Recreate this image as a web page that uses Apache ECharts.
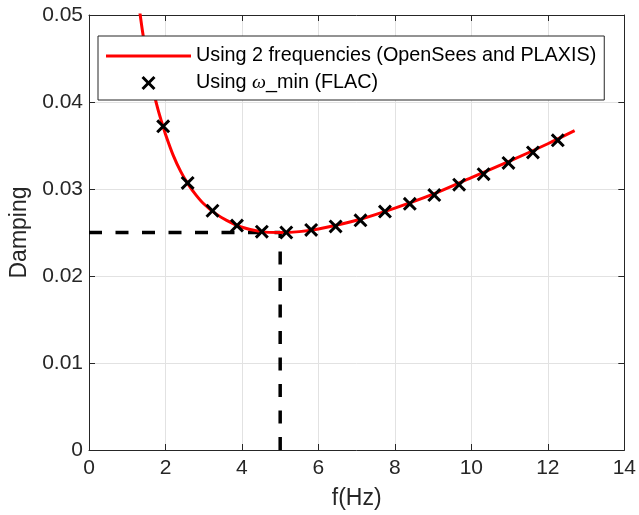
<!DOCTYPE html>
<html>
<head>
<meta charset="utf-8">
<script src="https://cdn.jsdelivr.net/npm/echarts@6/dist/echarts.min.js"></script>
<style>
html,body{margin:0;padding:0;background:#fff;}
#chart{width:639px;height:515px;}
</style>
</head>
<body>
<div id="chart"></div>
<script>
// Rayleigh damping curve (2 frequencies)
const curveFreq = [1.3, 1.4, 1.5, 1.6, 1.7, 1.8, 1.9, 2.0, 2.2, 2.4, 2.6, 2.8, 3.0, 3.3, 3.6, 4.0, 4.5, 5.0, 5.5, 6.0, 7.0, 8.0, 9.0, 10.0, 11.0, 12.0, 12.7];
const curveDamping = [0.0513, 0.0481, 0.0454, 0.0431, 0.0410, 0.0392, 0.0377, 0.0363, 0.0339, 0.0320, 0.0305, 0.0293, 0.0283, 0.0272, 0.0264, 0.0256, 0.0251, 0.0250, 0.0251, 0.0254, 0.0264, 0.0278, 0.0294, 0.0313, 0.0332, 0.0352, 0.0367];
// Marker points (omega_min, FLAC)
const markFreq = [1.94, 2.58, 3.23, 3.87, 4.52, 5.16, 5.81, 6.45, 7.10, 7.74, 8.39, 9.03, 9.68, 10.32, 10.97, 11.61, 12.26];
const markDamping = [0.0372, 0.0307, 0.0275, 0.0258, 0.0251, 0.0250, 0.0253, 0.0257, 0.0264, 0.0274, 0.0283, 0.0293, 0.0305, 0.0317, 0.0330, 0.0342, 0.0356];
// reference (minimum) point for dashed guides
const minFreq = 5;
const minDamping = 0.025;
// tick labels
const xTickLabels = ['0', '2', '4', '6', '8', '10', '12', '14'];
const yTickLabels = ['0', '0.01', '0.02', '0.03', '0.04', '0.05'];
const seriesNames = ['Using 2 frequencies (OpenSees and PLAXIS)', 'Using ω_min (FLAC)'];

const axisColor = '#262626';
const fontFam = '"Liberation Sans", Arial, Helvetica, sans-serif';
const xMark = 'path://M3,0 L10,7 L17,0 L20,3 L13,10 L20,17 L17,20 L10,13 L3,20 L0,17 L7,10 L0,3 Z';
const lineIcon = 'path://M0,0 L85,0 L85,3 L0,3 Z';

const chart = echarts.init(document.getElementById('chart'), null, {renderer: 'canvas'});
const baseAxis = {
  type: 'value',
  axisLine: {show: true, onZero: false, lineStyle: {color: axisColor, width: 1}},
  axisTick: {show: true, inside: true, length: 6, lineStyle: {color: axisColor, width: 1}},
  minorTick: {show: false}
};
const option = {
  animation: false,
  backgroundColor: '#fff',
  grid: {left: 89, right: 14, top: 15, bottom: 65, containLabel: false},
  legend: {
    orient: 'vertical',
    left: 98, top: 36,
    align: 'left',
    itemWidth: 85, itemHeight: 14, itemGap: 7,
    padding: [10, 8, 7, 8],
    backgroundColor: '#fff',
    borderColor: axisColor, borderWidth: 1, borderRadius: 0,
    data: [
      {name: seriesNames[0], icon: lineIcon},
      {name: seriesNames[1]}
    ],
    formatter: function (name) { return name.replace('ω', '{w|ω}'); },
    textStyle: {
      fontSize: 19.8, lineHeight: 18, color: '#000', fontFamily: fontFam,
      rich: {w: {fontSize: 19.8, lineHeight: 18, color: '#000', fontStyle: 'italic', fontFamily: '"Liberation Serif", "Times New Roman", serif'}}
    }
  },
  xAxis: [
    Object.assign({}, baseAxis, {
      position: 'bottom', min: 0, max: 14, interval: 2,
      axisLabel: {fontSize: 21, color: axisColor, fontFamily: fontFam, margin: 8,
        formatter: function (v) { return xTickLabels[Math.round(v / 2)]; }},
      splitLine: {show: true, lineStyle: {color: '#e2e2e2', width: 1}},
      name: 'f(Hz)', nameLocation: 'middle', nameGap: 37,
      nameTextStyle: {fontSize: 23, color: axisColor, fontFamily: fontFam}
    }),
    Object.assign({}, baseAxis, {
      position: 'top', min: 0, max: 14, interval: 2,
      axisLabel: {show: false}, splitLine: {show: false}
    })
  ],
  yAxis: [
    Object.assign({}, baseAxis, {
      position: 'left', min: 0, max: 0.05, interval: 0.01,
      axisLabel: {fontSize: 21, color: axisColor, fontFamily: fontFam, margin: 6,
        formatter: function (v) { return yTickLabels[Math.round(v / 0.01)]; }},
      splitLine: {show: true, lineStyle: {color: '#e2e2e2', width: 1}},
      name: 'Damping', nameLocation: 'middle', nameGap: 45, nameRotate: 90,
      nameTextStyle: {fontSize: 23, color: axisColor, fontFamily: fontFam}
    }),
    Object.assign({}, baseAxis, {
      position: 'right', min: 0, max: 0.05, interval: 0.01,
      axisLabel: {show: false}, splitLine: {show: false}
    })
  ],
  series: [
    {
      name: 'guideH', type: 'line', xAxisIndex: 0, yAxisIndex: 0,
      data: [[0, minDamping], [minFreq, minDamping]],
      symbol: 'none', silent: true,
      lineStyle: {color: '#000', width: 3.5, type: [13, 13.5], cap: 'butt'}, z: 2
    },
    {
      name: 'guideV', type: 'line', xAxisIndex: 0, yAxisIndex: 0,
      data: [[minFreq, 0], [minFreq, minDamping]],
      symbol: 'none', silent: true,
      lineStyle: {color: '#000', width: 3.5, type: [13, 13.5], cap: 'butt'}, z: 2
    },
    {
      name: seriesNames[0], type: 'line', xAxisIndex: 0, yAxisIndex: 0,
      data: curveFreq.map(function (f, i) { return [f, curveDamping[i]]; }),
      symbol: 'none', smooth: 0.3, clip: true,
      itemStyle: {color: '#ff0000'},
      lineStyle: {color: '#ff0000', width: 3}, z: 3
    },
    {
      name: seriesNames[1], type: 'scatter', xAxisIndex: 0, yAxisIndex: 0,
      data: markFreq.map(function (f, i) { return [f, markDamping[i]]; }),
      symbol: xMark, symbolSize: 14,
      itemStyle: {color: '#000', opacity: 1}, z: 4
    }
  ]
};
chart.setOption(option);
</script>
</body>
</html>
